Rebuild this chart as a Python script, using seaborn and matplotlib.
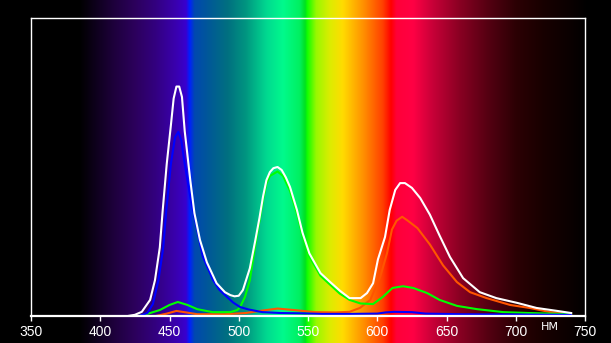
import numpy as np
import matplotlib
matplotlib.use("Agg")
import matplotlib.pyplot as plt
import seaborn as sns
import pandas as pd

# ---- data (y in fraction of plot height) ----
white_wl = [420, 425, 430, 436, 439.5, 443, 445, 448, 451, 453, 455, 457, 459, 461, 465, 468, 472, 477,
            484, 490, 494, 497, 500, 503, 508, 512, 515, 517.5, 520, 522.5, 525, 528, 531, 534, 537, 542, 546,
            551, 559, 566, 573, 580, 588, 592.6, 597, 600.5, 605.6, 609, 613, 616.5, 620, 625, 631,
            638, 645, 652.5, 662, 674, 686, 701, 715, 730, 740]
white_val = [0.0, 0.004, 0.014, 0.054, 0.12, 0.23, 0.35, 0.51, 0.64, 0.73, 0.77, 0.77, 0.735, 0.62,
             0.456, 0.345, 0.255, 0.18, 0.11, 0.08, 0.07, 0.066, 0.068, 0.087, 0.16, 0.255, 0.33, 0.40,
             0.456, 0.483, 0.496, 0.50, 0.49, 0.465, 0.433, 0.356, 0.28, 0.21, 0.144, 0.114, 0.085, 0.06, 0.06,
             0.077, 0.11, 0.19, 0.265, 0.356, 0.423, 0.446, 0.446, 0.43, 0.396, 0.34, 0.27, 0.198,
             0.127, 0.08, 0.06, 0.044, 0.027, 0.017, 0.01]

blue_wl = [428, 434, 438, 442, 445.5, 447.5, 451, 454, 456.4, 458.5, 461, 465, 470, 474, 481.5, 486,
           491.5, 496, 501, 507, 517, 530, 545, 560, 580, 600, 606, 612, 625, 635, 660, 700, 740]
blue_val = [0.0, 0.01, 0.04, 0.12, 0.23, 0.345, 0.51, 0.60, 0.618, 0.59, 0.51, 0.40, 0.29, 0.20, 0.12,
            0.088, 0.064, 0.045, 0.03, 0.022, 0.013, 0.01, 0.009, 0.007, 0.007, 0.008, 0.012, 0.014,
            0.013, 0.008, 0.006, 0.005, 0.004]

green_wl = [428, 436, 443, 450, 456, 463, 470, 481, 494, 499, 501, 504.5, 508, 512, 515, 517.5, 520,
            522.5, 528, 532, 537, 542, 546, 551, 559, 566, 573, 580, 588, 597, 604, 611, 618.6, 626,
            636, 645, 657.5, 672, 691, 710, 740]
green_val = [0.0, 0.01, 0.02, 0.037, 0.047, 0.037, 0.023, 0.013, 0.013, 0.02, 0.03, 0.064, 0.12, 0.24,
             0.32, 0.39, 0.445, 0.47, 0.485, 0.47, 0.42, 0.345, 0.27, 0.20, 0.135, 0.105, 0.075,
             0.054, 0.042, 0.04, 0.064, 0.094, 0.10, 0.094, 0.077, 0.054, 0.034, 0.023, 0.013, 0.01,
             0.006]

red_wl = [440, 448, 455, 462, 470, 490, 505, 515, 528, 540, 555, 570, 580, 587.5, 595, 602, 607, 610.6,
          614, 618, 622, 629, 638, 647.5, 657.5, 667, 679, 696, 710, 725, 740]
red_val = [0.0, 0.008, 0.017, 0.012, 0.006, 0.006, 0.01, 0.017, 0.025, 0.02, 0.013, 0.012, 0.014,
           0.027, 0.054, 0.13, 0.21, 0.29, 0.32, 0.333, 0.32, 0.295, 0.24, 0.17, 0.114, 0.08, 0.06,
           0.037, 0.027, 0.013, 0.008]

xticks = [350, 400, 450, 500, 550, 600, 650, 700, 750]
unit_label = "НМ"

# ---- background spectrum colour stops (style) ----
stops = [
    (327, (0, 0, 0)), (385, (0, 0, 0)), (395, (0x0c, 0x00, 0x18)), (410, (0x1e, 0x00, 0x3c)),
    (425, (0x2c, 0x00, 0x5c)), (440, (0x33, 0x00, 0x80)), (455, (0x3a, 0x00, 0xb0)),
    (462, (0x38, 0x00, 0xd0)), (464.5, (0x00, 0x20, 0xff)), (468, (0x00, 0x48, 0xb0)),
    (478, (0x00, 0x58, 0x98)), (492, (0x00, 0x70, 0x80)), (505, (0x00, 0x95, 0x80)),
    (520, (0x00, 0xd8, 0x90)), (532, (0x00, 0xfa, 0x8c)), (544, (0x00, 0xf0, 0x60)),
    (548, (0x00, 0xe0, 0x20)), (549.5, (0x10, 0xff, 0x00)), (556, (0x99, 0xf8, 0x00)),
    (566, (0xdd, 0xec, 0x00)), (575, (0xff, 0xdc, 0x00)), (590, (0xff, 0x90, 0x00)),
    (604, (0xff, 0x40, 0x00)), (610, (0xff, 0x00, 0x00)), (614, (0xff, 0x00, 0x38)),
    (626, (0xff, 0x00, 0x44)), (640, (0xc8, 0x00, 0x38)), (660, (0x88, 0x00, 0x22)),
    (680, (0x55, 0x00, 0x12)), (700, (0x2c, 0x00, 0x04)), (720, (0x18, 0x00, 0x00)),
    (740, (0x0a, 0x00, 0x00)), (752, (0, 0, 0)), (770, (0, 0, 0)),
]

W, H, DPI = 611, 343, 100
fig = plt.figure(figsize=(W / DPI, H / DPI), dpi=DPI)
fig.patch.set_facecolor("black")

# axes placement in pixels
L, R, T, B = 31, 585, 18, 316
lam_per_px = 400.0 / (R - L)
fig_lam0 = 350 - L * lam_per_px
fig_lam1 = 350 + (W - L) * lam_per_px

bg = fig.add_axes([0, 0, 1, 1])
grid = np.linspace(fig_lam0, fig_lam1, 2000)
sw = np.array([s[0] for s in stops], float)
sc = np.array([s[1] for s in stops], float) / 255.0
img = np.stack([np.interp(grid, sw, sc[:, i]) for i in range(3)], axis=-1)[None, :, :]
bg.imshow(img, extent=[fig_lam0, fig_lam1, 0, 1], aspect="auto", interpolation="bilinear")
bg.set_xlim(fig_lam0, fig_lam1)
bg.set_ylim(0, 1)
bg.axis("off")

ax = fig.add_axes([L / W, (H - B) / H, (R - L) / W, (B - T) / H])
ax.set_facecolor("none")

series = [
    (red_wl, red_val, "#ff5500"),
    (green_wl, green_val, "#00ff00"),
    (blue_wl, blue_val, "#0000ff"),
    (white_wl, white_val, "#ffffff"),
]
for wl, val, col in series:
    df = pd.DataFrame({"wl": wl, "v": val})
    sns.lineplot(data=df, x="wl", y="v", ax=ax, color=col, linewidth=1.5, sort=False)

ax.set_xlim(350, 750)
ax.set_ylim(0, 1)
ax.set_xlabel("")
ax.set_ylabel("")
ax.set_yticks([])
ax.set_xticks(xticks)
ax.set_xticklabels([str(t) for t in xticks], color="white", fontsize=10, family="Liberation Sans")
ax.tick_params(axis="x", colors="white", length=3.5, width=1, pad=3, direction="out")
for side in ["left", "right", "top"]:
    ax.spines[side].set_color("white")
    ax.spines[side].set_linewidth(1)
ax.spines["bottom"].set_color("white")
ax.spines["bottom"].set_linewidth(1.6)

fig.text(550 / W, 1 - 327 / H, unit_label, color="white", fontsize=8, ha="center", va="center",
         family="DejaVu Sans")

fig.savefig("out.png", dpi=DPI, facecolor="black")
